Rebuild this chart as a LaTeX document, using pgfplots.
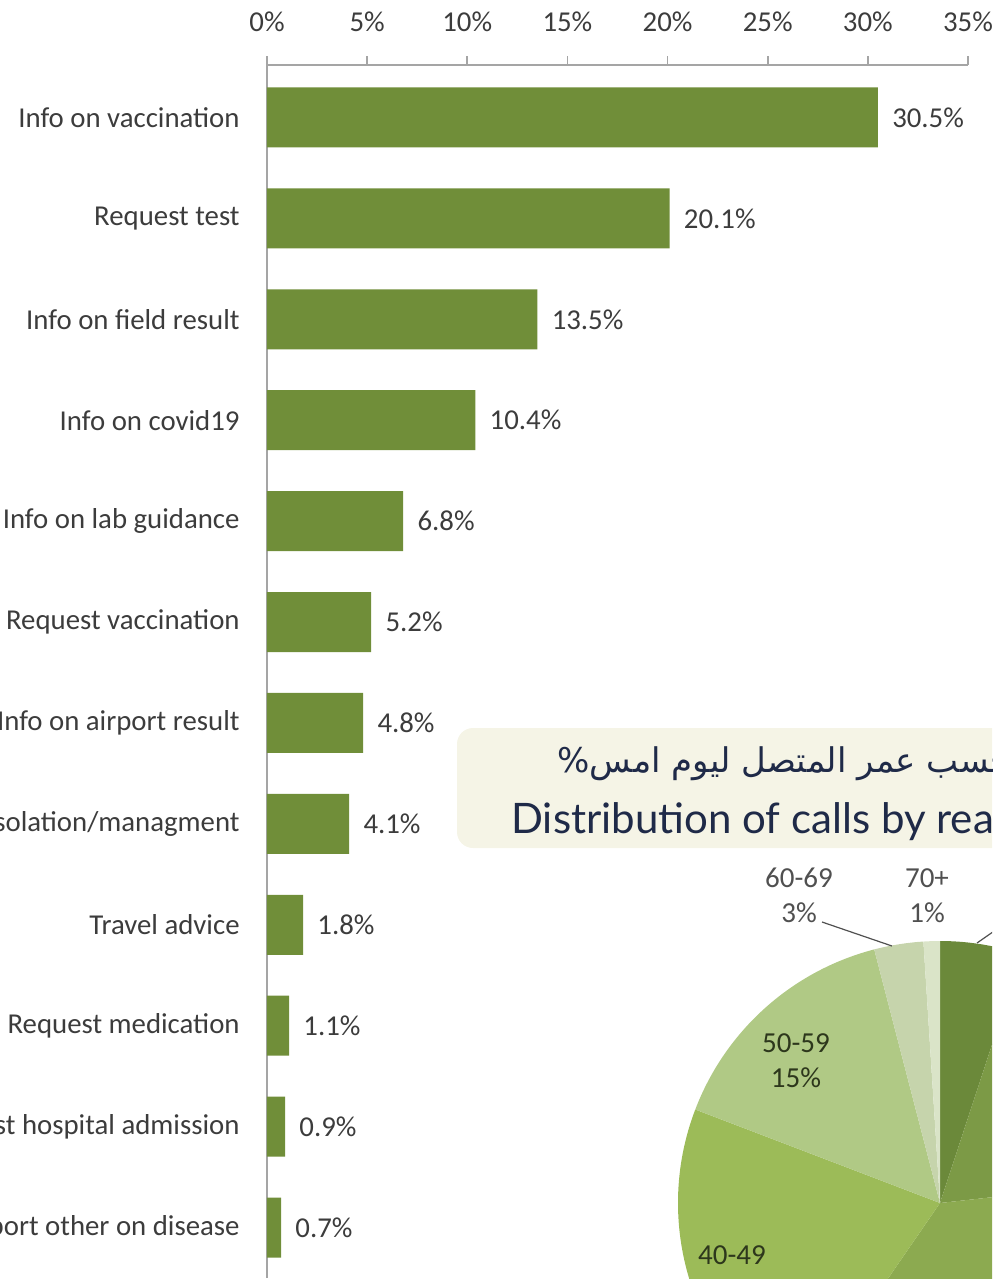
\documentclass[border=0pt]{standalone}
\usepackage{fontspec}
\usepackage{pgfplots}
\pgfplotsset{compat=1.18}
\setmainfont{Carlito}
\newfontfamily\titlefont{Lato}
\newfontfamily\arabicfont[Script=Arabic]{DejaVu Sans}
\TeXXeTstate=1
\definecolor{barcol}{RGB}{112,142,57}
\definecolor{axisgray}{RGB}{165,165,165}
\definecolor{labelgray}{RGB}{60,60,60}
\definecolor{titlebg}{RGB}{245,244,230}
\definecolor{titlecol}{RGB}{31,42,72}
\definecolor{pie1}{RGB}{107,137,58}
\definecolor{pie2}{RGB}{124,154,70}
\definecolor{pie3}{RGB}{140,170,80}
\definecolor{pie4}{RGB}{156,187,88}
\definecolor{pie5}{RGB}{176,201,133}
\definecolor{pie6}{RGB}{198,212,172}
\definecolor{pie7}{RGB}{218,228,200}
\definecolor{pielab}{RGB}{45,55,28}
\definecolor{outlab}{RGB}{80,80,80}
% pie shares (%), clockwise from 12 o'clock: <18, 18-29, 30-39, 40-49, 50-59, 60-69, 70+
\def\pievalues{5,18,36,21,15,3,1}
\begin{document}
\begin{tikzpicture}
\useasboundingbox (0,0) rectangle (496pt,-639.5pt);
\clip (0,0) rectangle (496pt,-639.5pt);
% angles of the pie slices, from the shares above
\gdef\cum{0}
\foreach \val [count=\i] in \pievalues {
  \pgfmathsetmacro\sa{90-\cum*3.63636}
  \pgfmathsetmacro\ea{90-(\cum+\val)*3.63636}
  \expandafter\xdef\csname pieS\i\endcsname{\sa}
  \expandafter\xdef\csname pieE\i\endcsname{\ea}
  \pgfmathsetmacro\newcum{\cum+\val}
  \global\let\cum\newcum
}
% title box of the pie chart
\fill[titlebg, rounded corners=8pt] (228.5pt,-364pt) rectangle (620pt,-424pt);
\node[anchor=base west, inner sep=0pt, font=\arabicfont\fontsize{17pt}{20pt}\selectfont, text=titlecol] at (278.5pt,-386pt) {\beginR توزيع المكالمات حسب عمر المتصل ليوم امس\%\endR};
\node[anchor=base west, inner sep=0pt, font=\titlefont\fontsize{21pt}{24pt}\selectfont, text=titlecol] at (255.5pt,-416.5pt) {Distribution of calls by reason};

\begin{axis}[
  at={(133.5pt,-32.5pt)}, anchor=north west,
  scale only axis, width=350.5pt, height=606.5pt,
  xmin=0, xmax=35, ymin=-0.5, ymax=11.52,
  axis x line*=top, axis y line*=left,
  axis line style={draw=axisgray, line width=0.9pt},
  xtick={0,5,...,35},
  xticklabels={0\%,5\%,10\%,15\%,20\%,25\%,30\%,35\%},
  ytick={0,...,11},
  yticklabels={Report other on disease, Request hospital admission, Request medication, Travel advice, Isolation/managment, Info on airport result, Request vaccination, Info on lab guidance, Info on covid19, Info on field result, Request test, Info on vaccination},
  minor ytick={-0.5,0.5,...,11.5},
  tick align=outside,
  major tick length=4.5pt, minor tick length=4.5pt,
  xtick style={draw=axisgray, line width=0.9pt},
  ytick style={draw=none},
  minor tick style={draw=axisgray, line width=0.9pt},
  tick label style={font=\fontsize{14.4pt}{16pt}\selectfont, text=labelgray},
  yticklabel style={anchor=east, inner sep=0pt, xshift=-9pt},
  xticklabel style={anchor=south, inner sep=0pt, yshift=12pt},
  xbar, bar width=0.595,
  point meta=x,
  /pgf/number format/assume math mode=true,
  nodes near coords={\pgfmathprintnumber[fixed,fixed zerofill,precision=1]{\pgfplotspointmeta}\%},
  nodes near coords style={anchor=west, inner sep=0pt, xshift=7pt, font=\fontsize{14.4pt}{16pt}\selectfont, text=labelgray},
  clip=false,
]
\addplot[fill=barcol, draw=none] coordinates {
  (30.5,11) (20.1,10) (13.5,9) (10.4,8) (6.8,7) (5.2,6)
  (4.8,5) (4.1,4) (1.8,3) (1.1,2) (0.9,1) (0.7,0)};
\end{axis}

% pie chart (share of calls by caller age, %)
\begin{axis}[
  at={(470pt,-601.5pt)}, anchor=center,
  width=262pt, height=262pt, scale only axis,
  xmin=-1, xmax=1, ymin=-1, ymax=1,
  hide axis, clip=false,
]
\pgfplotsinvokeforeach{1,...,7}{
  \fill[pie#1] (axis cs:0,0) -- ++(\csname pieS#1\endcsname:131pt)
    arc[start angle=\csname pieS#1\endcsname, end angle=\csname pieE#1\endcsname, radius=131pt] -- cycle;
}
\end{axis}
\draw[outlab, line width=0.6pt] (411pt,-461pt) -- (446pt,-473pt);
\draw[outlab, line width=0.6pt] (488.5pt,-471.5pt) -- (505pt,-460pt);
\node[font=\fontsize{14.5pt}{17.5pt}\selectfont, text=outlab, align=center] at (399.5pt,-447.75pt) {60-69\\3\%};
\node[font=\fontsize{14.5pt}{17.5pt}\selectfont, text=outlab, align=center] at (463.5pt,-447.75pt) {70+\\1\%};
\node[font=\fontsize{14.5pt}{17.5pt}\selectfont, text=pielab, align=center] at (398pt,-530.25pt) {50-59\\15\%};
\node[font=\fontsize{14.5pt}{17.5pt}\selectfont, text=pielab, align=center] at (366pt,-636.25pt) {40-49\\21\%};
\end{tikzpicture}
\end{document}
